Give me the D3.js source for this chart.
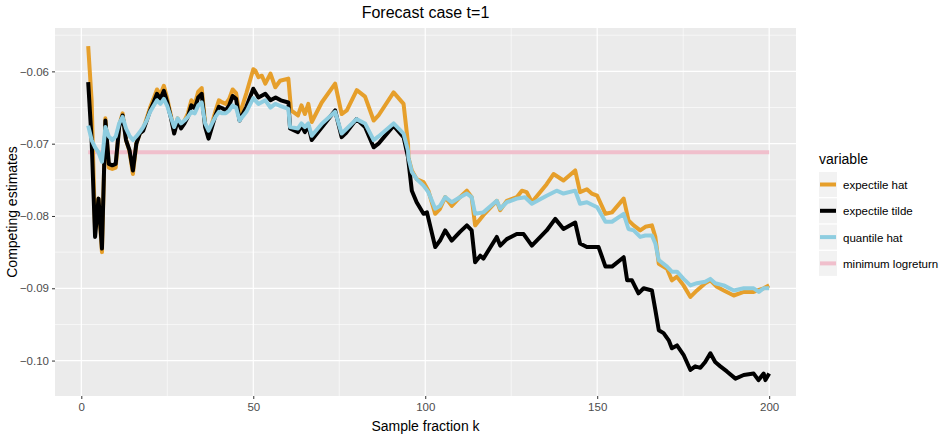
<!DOCTYPE html>
<html><head><meta charset="utf-8">
<script src="https://cdn.jsdelivr.net/npm/d3@7"></script>
<style>body{margin:0;background:#fff;font-family:"Liberation Sans",Arial,sans-serif}</style>
</head><body><svg id="c" width="943" height="439"></svg>
<script>
// expectile hat
const hatK = [2,3,4,5,6,7,8,9,10,11,12,13,14,15,16,17,18,19,20,21,22,23,24,25,26,27,28,29,30,31,32,33,34,35,36,37,38,39,40,41,42,43,44,45,46,48,50,
  50.6,51.5,52.5,53.5,55,56.4,57.8,60.2,61,63,64,65,66,67,69.9,73.8,75.7,77.2,80.1,82.5,85,86.4,90.8,93.7,95,
  95.1,96.1,97.5,99.5,100.9,102.9,104.3,105.8,107.7,110.1,112.1,113.5,114.5,116.9,120.8,121.8,123.7,126.6,128.1,129.5,131,135.3,137.3,140.2,143.6,145,147,148.4,
  150,152.4,154.3,157.7,159.1,160.6,162.5,164,165.9,166.9,167.9,170.3,171.7,173.2,175.1,177.1,179,181.4,182.9,184.8,186.8,189.7,192.6,195.5,196.5,198.4,200];
const hatV = [-0.0565,-0.064,-0.082,-0.0776,-0.085,-0.0665,-0.0733,-0.0735,-0.0733,-0.0675,-0.0658,-0.0695,-0.071,-0.0742,-0.07,-0.0686,-0.068,-0.0665,-0.065,-0.0638,-0.0625,-0.0632,-0.062,-0.0638,-0.066,-0.0684,-0.0665,-0.0676,-0.0668,-0.0658,-0.064,-0.0645,-0.0628,-0.0623,-0.0672,-0.069,-0.0672,-0.0655,-0.064,-0.0643,-0.0645,-0.0638,-0.0625,-0.063,-0.066,-0.063,-0.0597,
  -0.0599,-0.0608,-0.0606,-0.0617,-0.0603,-0.0622,-0.0613,-0.061,-0.0654,-0.0661,-0.0647,-0.0659,-0.0645,-0.067,-0.0643,-0.0617,-0.0659,-0.0654,-0.0626,-0.0635,-0.0668,-0.0661,-0.0629,-0.0645,-0.07,
  -0.0719,-0.0737,-0.0749,-0.0753,-0.0765,-0.0797,-0.079,-0.0774,-0.0786,-0.0774,-0.0765,-0.0774,-0.0813,-0.0799,-0.0779,-0.0792,-0.0779,-0.0774,-0.0765,-0.0767,-0.0781,-0.0756,-0.0742,-0.0751,-0.0737,-0.0767,-0.0763,-0.0769,
  -0.0772,-0.0797,-0.0795,-0.0776,-0.0806,-0.0813,-0.082,-0.0815,-0.0813,-0.0829,-0.0866,-0.0873,-0.0889,-0.0884,-0.0896,-0.0912,-0.0903,-0.0893,-0.0889,-0.0898,-0.0903,-0.091,-0.0905,-0.0905,-0.0903,-0.09,-0.0896];

// expectile tilde
const tildeK = [2,3,4,5,6,7,8,9,10,11,12,13,14,15,16,17,18,19,20,21,22,23,24,25,26,27,28,29,30,31,32,33,34,35,36,37,38,39,40,41,42,43,44,45,46,48,50,
  51.5,53.5,55,56.5,58,60.2,60.7,63,64,65,66,67,70,73.8,75.7,77,80,82.5,85,86.4,90.8,93.7,95,
  96.1,97.5,99.5,100.5,102.9,104.3,105.8,107.7,110.1,112.1,113.5,114.5,116,116.9,120.8,121.8,123.7,126.6,128.6,131,135.3,137.8,140.2,143.6,145,147,
  150.4,152.4,154.3,157.7,158.7,160.1,162,163.5,165.9,166.9,167.9,169.3,170.8,171.7,173.2,175.1,177.1,178.5,180,181.4,182.9,184.3,185.8,187.7,190.2,192.6,195.5,196.9,198.4,198.9,200];
const tildeV = [-0.0615,-0.0695,-0.0829,-0.0776,-0.0845,-0.0668,-0.0728,-0.073,-0.0728,-0.0677,-0.0661,-0.0695,-0.0709,-0.0737,-0.07,-0.0686,-0.0682,-0.0668,-0.0654,-0.0643,-0.0631,-0.0638,-0.0627,-0.0643,-0.0663,-0.0686,-0.0668,-0.0679,-0.0672,-0.0663,-0.0647,-0.0651,-0.0636,-0.0631,-0.0677,-0.0693,-0.0677,-0.0661,-0.0649,-0.0651,-0.0654,-0.0647,-0.0634,-0.0638,-0.0668,-0.0649,-0.0624,
  -0.0636,-0.0631,-0.064,-0.0636,-0.064,-0.0643,-0.0679,-0.0684,-0.0675,-0.0684,-0.0675,-0.0695,-0.0677,-0.0654,-0.0691,-0.0685,-0.0666,-0.0677,-0.0705,-0.07,-0.0675,-0.0691,-0.0719,
  -0.0765,-0.0781,-0.0797,-0.0795,-0.0843,-0.0834,-0.082,-0.0834,-0.0822,-0.0813,-0.082,-0.0864,-0.0855,-0.0859,-0.0829,-0.0841,-0.0832,-0.0825,-0.0825,-0.0841,-0.082,-0.0804,-0.0818,-0.0809,-0.0838,-0.0843,
  -0.0843,-0.087,-0.087,-0.0857,-0.0889,-0.0889,-0.0907,-0.09,-0.0903,-0.093,-0.0958,-0.0962,-0.0972,-0.0983,-0.0979,-0.0992,-0.1013,-0.1008,-0.101,-0.1002,-0.099,-0.1002,-0.1008,-0.1015,-0.1025,-0.102,-0.1018,-0.1027,-0.1018,-0.1027,-0.1018];

// quantile hat
const quantK = [2,3,4,5,6,7,8,9,10,11,12,13,14,15,16,17,18,19,20,21,22,23,24,25,26,27,28,29,30,31,32,33,34,35,36,37,38,39,40,41,42,43,44,45,46,48,50,
  51.5,53.5,55,56.4,58,60.2,60.7,63,64,65,66,67,70,73.8,75.7,77,80,82.5,85,86.4,90.8,93.7,95,
  95.1,96.1,97.5,99.5,100.9,102.9,104.3,105.8,107.7,110.1,112.1,113.5,114.5,116.9,120.8,121.8,123.7,126.6,129,131,135.3,138.2,140.2,143.6,145,147,
  150,152.4,154.3,157.7,159.1,160.6,162.5,164,165.9,166.9,167.9,170.3,171.7,173.2,175.1,177.1,179,181.4,182.9,184.3,186.8,189.7,192.6,195.5,197,198.4,200];
const quantV = [-0.0675,-0.0695,-0.0705,-0.0712,-0.0725,-0.0677,-0.069,-0.0695,-0.069,-0.0672,-0.0663,-0.0679,-0.0689,-0.0695,-0.069,-0.0684,-0.0677,-0.0668,-0.0656,-0.0648,-0.064,-0.0645,-0.0638,-0.0648,-0.0663,-0.0677,-0.0665,-0.0672,-0.0668,-0.0663,-0.0656,-0.0658,-0.0647,-0.0643,-0.0672,-0.0682,-0.0672,-0.0663,-0.0656,-0.0658,-0.0658,-0.0654,-0.0647,-0.065,-0.0668,-0.0656,-0.0637,
  -0.0645,-0.064,-0.065,-0.0645,-0.0648,-0.0652,-0.0677,-0.0679,-0.0672,-0.0677,-0.0672,-0.0689,-0.0672,-0.0656,-0.0686,-0.068,-0.0666,-0.0672,-0.0695,-0.069,-0.0672,-0.0686,-0.071,
  -0.0719,-0.0739,-0.0749,-0.0758,-0.0767,-0.079,-0.0786,-0.0774,-0.0781,-0.0774,-0.0769,-0.0774,-0.0797,-0.0795,-0.0779,-0.079,-0.0781,-0.0776,-0.0774,-0.0783,-0.0772,-0.0765,-0.0769,-0.0765,-0.0783,-0.0781,
  -0.0788,-0.0808,-0.0808,-0.0797,-0.0818,-0.082,-0.0829,-0.0827,-0.0827,-0.0838,-0.0861,-0.087,-0.0877,-0.0877,-0.0887,-0.0896,-0.0893,-0.0891,-0.0887,-0.0893,-0.0896,-0.0903,-0.09,-0.09,-0.0905,-0.09,-0.09];

// minimum logreturn
const minK = [2,200];
const minV = [-0.0712,-0.0712];

const xTicks = [0,50,100,150,200];
const yTicks = [-0.06,-0.07,-0.08,-0.09,-0.10];
const seriesNames = ["expectile hat","expectile tilde","quantile hat","minimum logreturn"];
const seriesColors = ["#E69F2B","#000000","#8ECDE0","#F0BFCC"];

const svg = d3.select("#c");
const L = 55, R = 796, T = 28, B = 396;
const x = d3.scaleLinear().domain([-7.65, 207.8]).range([L, R]);
const y = d3.scaleLinear().domain([-0.0540, -0.1049]).range([T, B]);

svg.append("rect").attr("x", L).attr("y", T).attr("width", R - L).attr("height", B - T).attr("fill", "#EBEBEB");
// minor grid
const xMinor = [25,75,125,175], yMinor = [-0.055,-0.065,-0.075,-0.085,-0.095];
const g = svg.append("g");
xMinor.forEach(v => g.append("line").attr("x1", x(v)).attr("x2", x(v)).attr("y1", T).attr("y2", B).attr("stroke", "#fff").attr("stroke-width", 0.6));
yMinor.forEach(v => g.append("line").attr("y1", y(v)).attr("y2", y(v)).attr("x1", L).attr("x2", R).attr("stroke", "#fff").attr("stroke-width", 0.6));
xTicks.forEach(v => g.append("line").attr("x1", x(v)).attr("x2", x(v)).attr("y1", T).attr("y2", B).attr("stroke", "#fff").attr("stroke-width", 1.2));
yTicks.forEach(v => g.append("line").attr("y1", y(v)).attr("y2", y(v)).attr("x1", L).attr("x2", R).attr("stroke", "#fff").attr("stroke-width", 1.2));

const line = d3.line().x(d => x(d[0])).y(d => y(d[1]));
const all = [[hatK, hatV], [tildeK, tildeV], [quantK, quantV], [minK, minV]];
[3, 0, 1, 2].forEach(i => {
  const [ks, vs] = all[i];
  svg.append("path").datum(ks.map((k, j) => [k, vs[j]]))
    .attr("d", line).attr("fill", "none").attr("stroke", seriesColors[i])
    .attr("stroke-width", 4).attr("stroke-linejoin", "round");
});

const xa = svg.append("g").attr("transform", `translate(0,${B})`)
  .call(d3.axisBottom(x).tickValues(xTicks).tickSize(3).tickPadding(4).tickFormat(d3.format("d")));
const ya = svg.append("g").attr("transform", `translate(${L},0)`)
  .call(d3.axisLeft(y).tickValues(yTicks).tickSize(3).tickPadding(3).tickFormat(d3.format(".2f")));
[xa, ya].forEach(a => {
  a.select(".domain").remove();
  a.selectAll("line").attr("stroke", "#333");
  a.selectAll("text").attr("fill", "#4D4D4D").attr("font-size", 11.5).attr("font-family", "Liberation Sans, Arial, sans-serif");
});

svg.append("text").attr("x", (L + R) / 2).attr("y", 18).attr("text-anchor", "middle")
  .attr("font-size", 16).text("Forecast case t=1");
svg.append("text").attr("x", (L + R) / 2).attr("y", 431).attr("text-anchor", "middle")
  .attr("font-size", 14).text("Sample fraction k");
svg.append("text").attr("transform", `translate(17,${(T + B) / 2}) rotate(-90)`).attr("text-anchor", "middle")
  .attr("font-size", 14).text("Competing estimates");

const lg = svg.append("g").attr("transform", "translate(819,150)");
lg.append("text").attr("x", 0).attr("y", 14).attr("font-size", 14).text("variable");
seriesNames.forEach((n, i) => {
  const r = lg.append("g").attr("transform", `translate(0,${22 + i * 26.3})`);
  r.append("rect").attr("width", 18).attr("height", 25).attr("fill", "#F2F2F2");
  r.append("line").attr("x1", 1).attr("x2", 17).attr("y1", 12.5).attr("y2", 12.5)
    .attr("stroke", seriesColors[i]).attr("stroke-width", 4);
  r.append("text").attr("x", 24).attr("y", 17).attr("font-size", 11.5).attr("fill", "#000").text(n);
});
</script></body></html>
